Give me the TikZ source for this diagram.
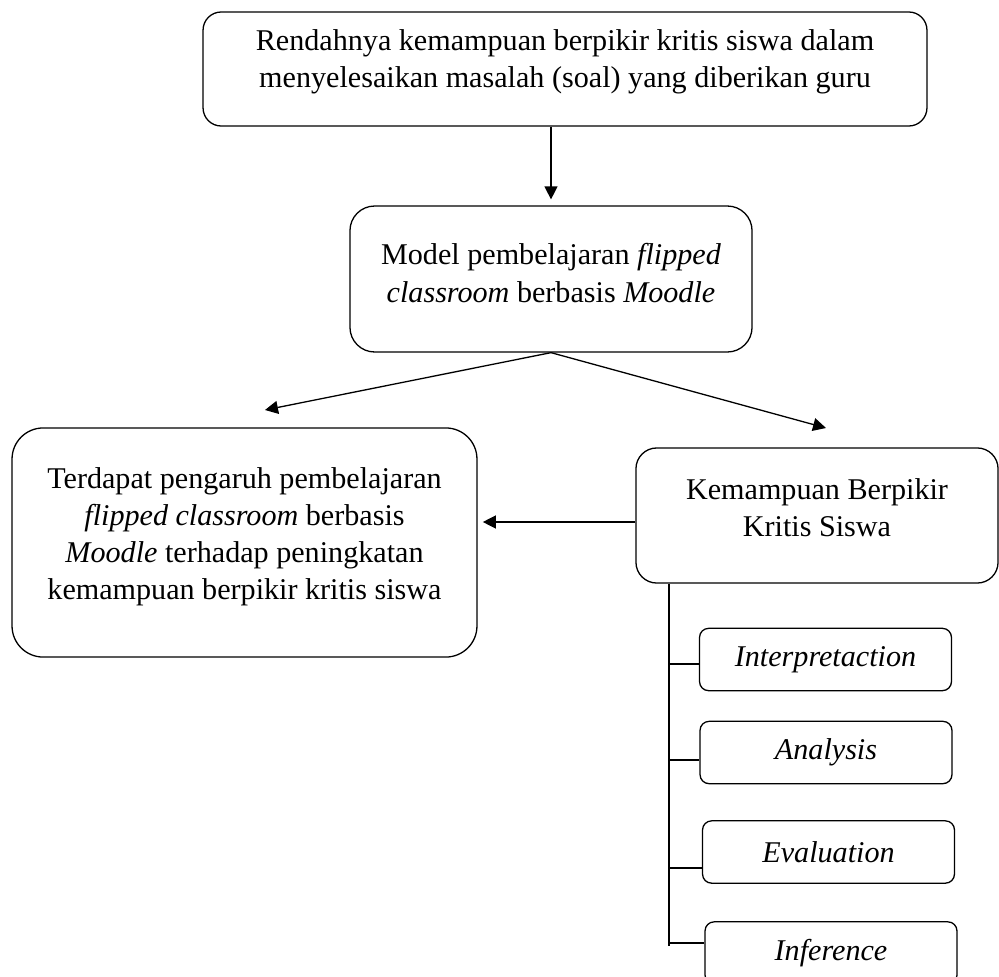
\documentclass[tikz,border=0pt]{standalone}
\usepackage{fontspec}
\setmainfont{Liberation Serif}
\usetikzlibrary{arrows.meta}

\tikzset{
  box/.style={draw, line width=0.5pt, rounded corners=#1, inner sep=0pt},
  box/.default=7pt,
  txt/.style={align=center, inner sep=0pt, font=\fontsize{11.6}{14.3}\selectfont},
  arr/.style={-{Triangle[length=5pt,width=5pt]}, line width=0.5pt},
  spine/.style={line width=0.5pt},
}

\begin{document}
\begin{tikzpicture}[x=0.385pt, y=-0.385pt]
\useasboundingbox (0,0) rectangle (999,976);
\clip (0,0) rectangle (999,976);

% Problem
\node[box=7pt, minimum width=278.7pt, minimum height=43.9pt] (top) at (565,69) {};
\node[txt] (toptxt) at (565,62) {Rendahnya kemampuan berpikir kritis siswa dalam\\
  menyelesaikan masalah (soal) yang diberikan guru};

% Model
\node[box=9.5pt, minimum width=154.8pt, minimum height=56.2pt] (mid) at (551,279) {};
\node[txt] (midtxt) at (551,273) {Model pembelajaran \textit{flipped}\\
  \textit{classroom} berbasis \textit{Moodle}};

% Hypothesis (left)
\node[box=12pt, minimum width=179pt, minimum height=88.2pt] (left) at (244.5,542.5) {};
\node[txt] (lefttxt) at (244.5,537) {Terdapat pengaruh pembelajaran\\
  \textit{flipped classroom} berbasis\\
  \textit{Moodle} terhadap peningkatan\\
  kemampuan berpikir kritis siswa};

% Critical thinking (right)
\node[box=8pt, minimum width=139.4pt, minimum height=52pt] (right) at (817,515.5) {};
\node[txt] (righttxt) at (817,508) {Kemampuan Berpikir\\ Kritis Siswa};

% Indicators
\node[box=3.5pt, txt, minimum width=97pt, minimum height=24pt] (ib1) at (825.5,659.5) {\textit{Interpretaction}};
\node[box=3.5pt, txt, minimum width=97pt, minimum height=24pt] (ib2) at (826,752.5) {\textit{Analysis}};
\node[box=3.5pt, txt, minimum width=97pt, minimum height=24pt] (ib3) at (828.5,852) {\textit{Evaluation}};
\node[box=3.5pt, txt, minimum width=97pt, minimum height=24pt] (ib4) at (831,953) {\textit{Inference}};

% Arrows
\coordinate (ml) at (265,410);
\coordinate (mr) at (826,428);
\coordinate (rw) at ([yshift=-2.5pt]right.west);
\draw[arr, shorten >=2.3pt] (top.south -| mid.north) -- (mid.north);
\draw[arr] (mid.south) -- (ml);
\draw[arr] (mid.south) -- (mr);
\draw[arr, shorten >=2pt] (rw) -- (rw -| left.east);

% Spine with ticks
\coordinate (s4) at (669,946);
\draw[spine] (right.south -| s4) -- (s4);
\foreach \i/\y in {1/664, 2/760, 3/868, 4/943} {
  \coordinate (t\i) at (669,\y);
  \draw[spine] (t\i) -- (t\i -| ib\i.west);
}

\end{tikzpicture}
\end{document}
